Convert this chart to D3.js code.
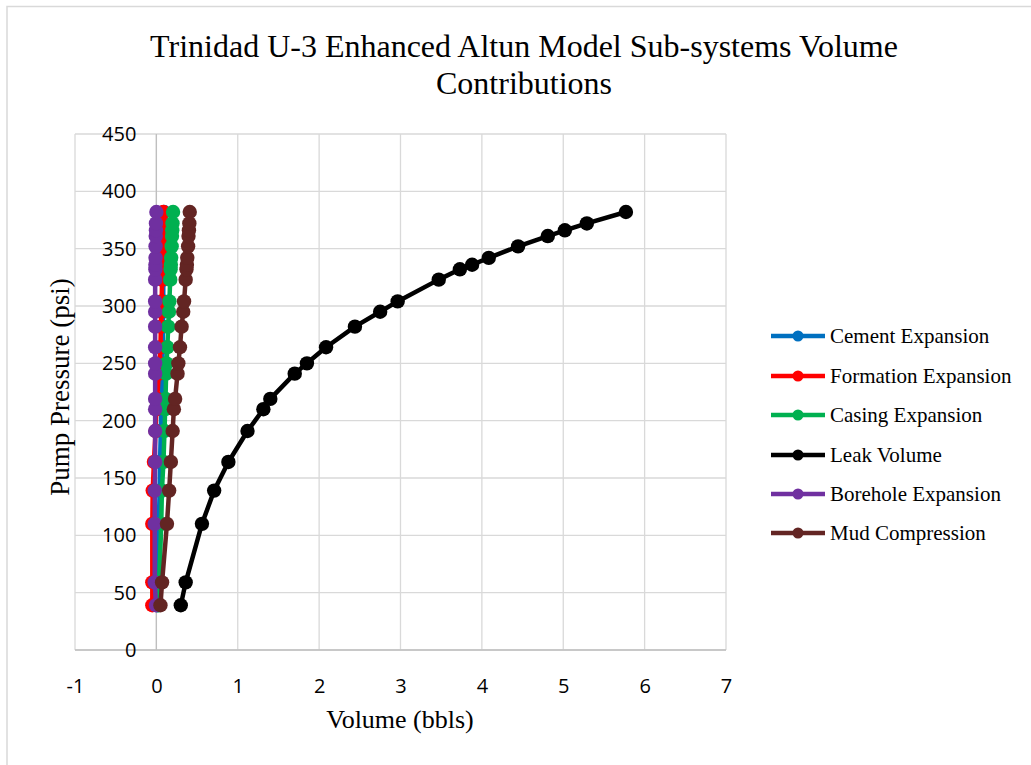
<!DOCTYPE html>
<html>
<head>
<meta charset="utf-8">
<script src="https://cdn.jsdelivr.net/npm/d3@7"></script>
<style>
  html, body { margin: 0; padding: 0; background: #fff; }
  svg { display: block; }
</style>
</head>
<body>
<svg id="chart" width="1031" height="765"></svg>
<script>
// Pump pressure levels (psi) shared by every sub-system series
const pressure = [39, 59, 110, 139, 164, 191, 210, 219, 241, 250, 264, 282, 295, 304, 323, 332, 336, 342, 352, 361, 366, 372, 382];

// Volume contributions (bbls) at each pressure level
const cementExpansion    = [0.010, 0.015, 0.030, 0.040, 0.045, 0.055, 0.060, 0.065, 0.072, 0.075, 0.078, 0.080, 0.082, 0.084, 0.086, 0.087, 0.088, 0.089, 0.090, 0.091, 0.092, 0.093, 0.094];
const formationExpansion = [-0.050, -0.050, -0.050, -0.045, -0.030, -0.010, 0.000, 0.010, 0.030, 0.040, 0.050, 0.055, 0.060, 0.065, 0.070, 0.072, 0.074, 0.076, 0.078, 0.080, 0.082, 0.084, 0.086];
const casingExpansion    = [0.025, 0.035, 0.060, 0.068, 0.087, 0.100, 0.108, 0.112, 0.120, 0.125, 0.135, 0.145, 0.155, 0.160, 0.170, 0.175, 0.178, 0.182, 0.188, 0.192, 0.195, 0.198, 0.205];
const leakVolume         = [0.30, 0.36, 0.56, 0.71, 0.885, 1.12, 1.315, 1.40, 1.70, 1.85, 2.085, 2.44, 2.75, 2.965, 3.47, 3.73, 3.88, 4.085, 4.445, 4.81, 5.02, 5.29, 5.77];
const boreholeExpansion  = [-0.005, -0.020, -0.020, -0.020, -0.015, -0.015, -0.015, -0.015, -0.015, -0.015, -0.015, -0.015, -0.015, -0.015, -0.015, -0.012, -0.012, -0.010, -0.010, -0.008, -0.005, -0.005, 0.000];
const mudCompression     = [0.050, 0.070, 0.130, 0.157, 0.178, 0.200, 0.215, 0.230, 0.260, 0.270, 0.290, 0.310, 0.330, 0.340, 0.360, 0.370, 0.375, 0.380, 0.390, 0.395, 0.400, 0.405, 0.410];

const seriesNames  = ["Cement Expansion", "Formation Expansion", "Casing Expansion", "Leak Volume", "Borehole Expansion", "Mud Compression"];
const seriesValues = [cementExpansion, formationExpansion, casingExpansion, leakVolume, boreholeExpansion, mudCompression];
const seriesColors = ["#0070C0", "#FF0000", "#00B050", "#000000", "#7030A0", "#632523"];

const xTicks = [-1, 0, 1, 2, 3, 4, 5, 6, 7];
const yTicks = [0, 50, 100, 150, 200, 250, 300, 350, 400, 450];

const titleLines = ["Trinidad U-3 Enhanced Altun Model Sub-systems Volume", "Contributions"];
const xTitle = "Volume (bbls)";
const yTitle = "Pump Pressure (psi)";

const svg = d3.select("#chart");
const serif = "'Liberation Serif', 'Times New Roman', serif";
const sans = "'Open Sans', 'Noto Sans', sans-serif";

// Chart frame
svg.append("rect")
  .attr("x", 7).attr("y", 6.5)
  .attr("width", 1100).attr("height", 900)
  .attr("fill", "#fff")
  .attr("stroke", "#d9d9d9").attr("stroke-width", 1.5);

const plot = { left: 75, right: 726, top: 134, bottom: 650 };

const x = d3.scaleLinear().domain([-1, 7]).range([plot.left, plot.right]);
const y = d3.scaleLinear().domain([0, 450]).range([plot.bottom, plot.top]);

// Gridlines
const grid = svg.append("g");
grid.selectAll("line.v").data(xTicks).join("line")
  .attr("x1", d => x(d)).attr("x2", d => x(d))
  .attr("y1", plot.top).attr("y2", plot.bottom)
  .attr("stroke", "#d9d9d9").attr("stroke-width", 1.3);
grid.selectAll("line.h").data(yTicks).join("line")
  .attr("x1", plot.left).attr("x2", plot.right)
  .attr("y1", d => y(d)).attr("y2", d => y(d))
  .attr("stroke", "#d9d9d9").attr("stroke-width", 1.3);

// Axis lines: value axis crosses at x = 0
svg.append("line")
  .attr("x1", x(0)).attr("x2", x(0)).attr("y1", plot.top).attr("y2", plot.bottom)
  .attr("stroke", "#bfbfbf").attr("stroke-width", 1.3);
svg.append("line")
  .attr("x1", plot.left).attr("x2", plot.right).attr("y1", y(0)).attr("y2", y(0))
  .attr("stroke", "#bfbfbf").attr("stroke-width", 1.3);

// Tick labels via d3 axes (domain and tick lines hidden), plain hyphen for negatives
const plainNumber = d => String(d);
const xAxis = svg.append("g")
  .attr("transform", `translate(0,${plot.bottom})`)
  .call(d3.axisBottom(x).tickValues(xTicks).tickSize(0).tickPadding(29).tickFormat(plainNumber));
xAxis.select(".domain").remove();
xAxis.selectAll("text").attr("font-family", sans).attr("font-size", 20).attr("fill", "#000");

const yAxis = svg.append("g")
  .attr("transform", `translate(${x(0)},0)`)
  .call(d3.axisLeft(y).tickValues(yTicks).tickSize(0).tickPadding(20).tickFormat(plainNumber));
yAxis.select(".domain").remove();
yAxis.selectAll("text").attr("font-family", sans).attr("font-size", 20).attr("fill", "#000");

// Series: lines then markers, in series order
const line = d3.line().x(d => x(d[0])).y(d => y(d[1]));
seriesValues.forEach((vals, i) => {
  const pts = vals.map((v, j) => [v, pressure[j]]);
  const g = svg.append("g");
  g.append("path")
    .attr("d", line(pts))
    .attr("fill", "none")
    .attr("stroke", seriesColors[i])
    .attr("stroke-width", 4.5)
    .attr("stroke-linejoin", "round");
  g.selectAll("circle").data(pts).join("circle")
    .attr("cx", d => x(d[0])).attr("cy", d => y(d[1]))
    .attr("r", 7.2)
    .attr("fill", seriesColors[i]);
});

// Title
svg.append("text")
  .attr("x", 524).attr("y", 57)
  .attr("text-anchor", "middle")
  .attr("font-family", serif).attr("font-size", 32)
  .attr("fill", "#000")
  .selectAll("tspan").data(titleLines).join("tspan")
  .attr("x", 524).attr("dy", (d, i) => i === 0 ? 0 : 37)
  .text(d => d);

// Axis titles
svg.append("text")
  .attr("x", 400).attr("y", 728)
  .attr("text-anchor", "middle")
  .attr("font-family", serif).attr("font-size", 26)
  .text(xTitle);
svg.append("text")
  .attr("transform", `translate(69,${(plot.top + plot.bottom) / 2 - 5}) rotate(-90)`)
  .attr("text-anchor", "middle")
  .attr("font-family", serif).attr("font-size", 27)
  .text(yTitle);

// Legend
const legend = svg.append("g");
const legendRows = [336, 376, 415, 455, 494, 533];
seriesNames.forEach((name, i) => {
  const row = legend.append("g").attr("transform", `translate(0,${legendRows[i]})`);
  row.append("line")
    .attr("x1", 771).attr("x2", 825).attr("y1", 0).attr("y2", 0)
    .attr("stroke", seriesColors[i]).attr("stroke-width", 4.5);
  row.append("circle").attr("cx", 798).attr("cy", 0).attr("r", 5.5).attr("fill", seriesColors[i]);
  row.append("text")
    .attr("x", 830).attr("y", 7)
    .attr("font-family", serif).attr("font-size", 21)
    .attr("fill", "#000")
    .text(name);
});
</script>
</body>
</html>
